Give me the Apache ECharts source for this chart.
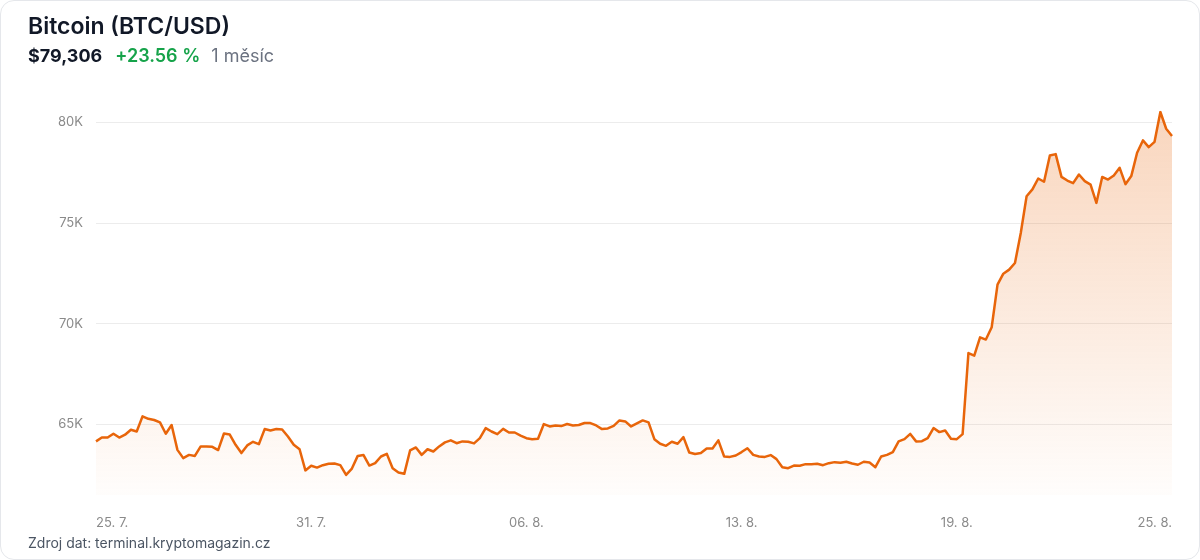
<!DOCTYPE html>
<html>
<head>
<meta charset="utf-8">
<script src="https://cdn.jsdelivr.net/npm/echarts@6/dist/echarts.min.js"></script>
<style>
  html, body { margin: 0; padding: 0; background: #ffffff; }
  body { width: 1200px; height: 560px; position: relative; overflow: hidden; font-family: Inter, "Noto Sans", sans-serif; }
  #card { position: absolute; left: 0; top: 0; width: 1198px; height: 558px; border: 1px solid #e5e7eb; border-radius: 14px; background: #fff; }
  #chart { position: absolute; left: 0; top: 0; width: 1200px; height: 560px; }
  #title { position: absolute; left: 28px; top: 11px; font-size: 23px; font-weight: 600; color: #111827; line-height: 30px; white-space: nowrap; }
  #sub { position: absolute; left: 28px; top: 44px; font-size: 18px; line-height: 24px; white-space: nowrap; }
  #sub .price { font-weight: 700; color: #111827; }
  #sub .chg { font-weight: 600; color: #16a34a; margin-left: 13px; }
  #sub .per { color: #6b7280; margin-left: 11px; }
  #src { position: absolute; left: 28px; top: 534px; font-size: 14px; color: #4b5563; line-height: 18px; white-space: nowrap; }
</style>
</head>
<body>
<div id="card"></div>
<div id="chart"></div>
<div id="title">Bitcoin (BTC/USD)</div>
<div id="sub"><span class="price">$79,306</span><span class="chg">+23.56 %</span><span class="per">1 měsíc</span></div>
<div id="src">Zdroj dat: terminal.kryptomagazin.cz</div>
<script>
// 4-hourly BTC/USD closes (USD)
const prices = [
  64160, 64350, 64350, 64540, 64350, 64490, 64740, 64650, 65400, 65280, 65220, 65100,
  64540, 64970, 63740, 63330, 63490, 63440, 63910, 63910, 63890, 63730, 64550, 64500,
  63990, 63580, 63960, 64140, 64020, 64770, 64700, 64770, 64750, 64400, 63990, 63770,
  62720, 62950, 62860, 62980, 63050, 63060, 62980, 62500, 62810, 63440, 63480, 62960,
  63080, 63410, 63540, 62830, 62620, 62550, 63710, 63860, 63490, 63770, 63660, 63910,
  64110, 64210, 64070, 64160, 64140, 64060, 64320, 64820, 64650, 64520, 64780, 64600,
  64600, 64450, 64320, 64270, 64290, 65020, 64900, 64950, 64920, 65020, 64950, 64970,
  65070, 65070, 64950, 64770, 64800, 64930, 65200, 65150, 64900, 65050,
  65200, 65100, 64270, 64040, 63940, 64140, 64040, 64370, 63610, 63530, 63580, 63810,
  63810, 64210, 63410, 63390, 63460, 63630, 63820, 63490, 63410, 63390, 63480, 63280,
  62880, 62830, 62960, 62950, 63030, 63030, 63050, 62980, 63080, 63130, 63100, 63150,
  63060, 63000, 63150, 63110, 62880, 63410, 63490, 63630, 64160, 64270, 64530,
  64160, 64170, 64320, 64820, 64620, 64700, 64290, 64270, 64520, 68540, 68410, 69320,
  69210, 69820, 71940, 72480, 72680, 73010, 74500, 76320, 76660, 77200, 77040, 78340,
  78410, 77280, 77100, 76970, 77400, 77070, 76900, 75990, 77280, 77150, 77350, 77730,
  76920, 77320, 78480, 79090, 78760, 79020, 80500, 79670, 79306
];
const tickLabels = ['25. 7.', '31. 7.', '06. 8.', '13. 8.', '19. 8.', '25. 8.'];
const tickStep = 37;
const yTicks = [65000, 70000, 75000, 80000];
const yMin = 61500, yMax = 80500;

const categories = prices.map((_, i) => i);

const chart = echarts.init(document.getElementById('chart'), null, { renderer: 'canvas' });
chart.setOption({
  animation: false,
  backgroundColor: 'transparent',
  grid: { left: 96, right: 28, top: 112, bottom: 65, containLabel: false },
  xAxis: {
    type: 'category',
    data: categories,
    boundaryGap: false,
    axisLine: { show: false },
    axisTick: { show: false },
    splitLine: { show: false },
    axisLabel: {
      interval: (idx) => idx % tickStep === 0,
      formatter: (val, idx) => tickLabels[Math.round(idx / tickStep)] || '',
      color: '#8a8a8a',
      fontSize: 13,
      fontFamily: 'Inter',
      margin: 22,
      alignMinLabel: 'left',
      alignMaxLabel: 'right'
    }
  },
  yAxis: {
    type: 'value',
    min: yMin,
    max: yMax,
    axisLine: { show: false },
    axisTick: { show: false, customValues: yTicks },
    axisLabel: {
      customValues: yTicks,
      formatter: (v) => (v / 1000) + 'K',
      color: '#8a8a8a',
      fontSize: 13,
      fontFamily: 'Inter',
      margin: 13
    },
    splitLine: { show: true, lineStyle: { color: '#ececec', width: 1 } }
  },
  series: [{
    type: 'line',
    data: prices,
    symbol: 'none',
    smooth: false,
    lineStyle: { color: '#e8650a', width: 2.5, join: 'round' },
    areaStyle: {
      color: new echarts.graphic.LinearGradient(0, 0, 0, 1, [
        { offset: 0, color: 'rgba(232,101,10,0.38)' },
        { offset: 1, color: 'rgba(232,101,10,0.02)' }
      ])
    }
  }]
});
</script>
</body>
</html>
